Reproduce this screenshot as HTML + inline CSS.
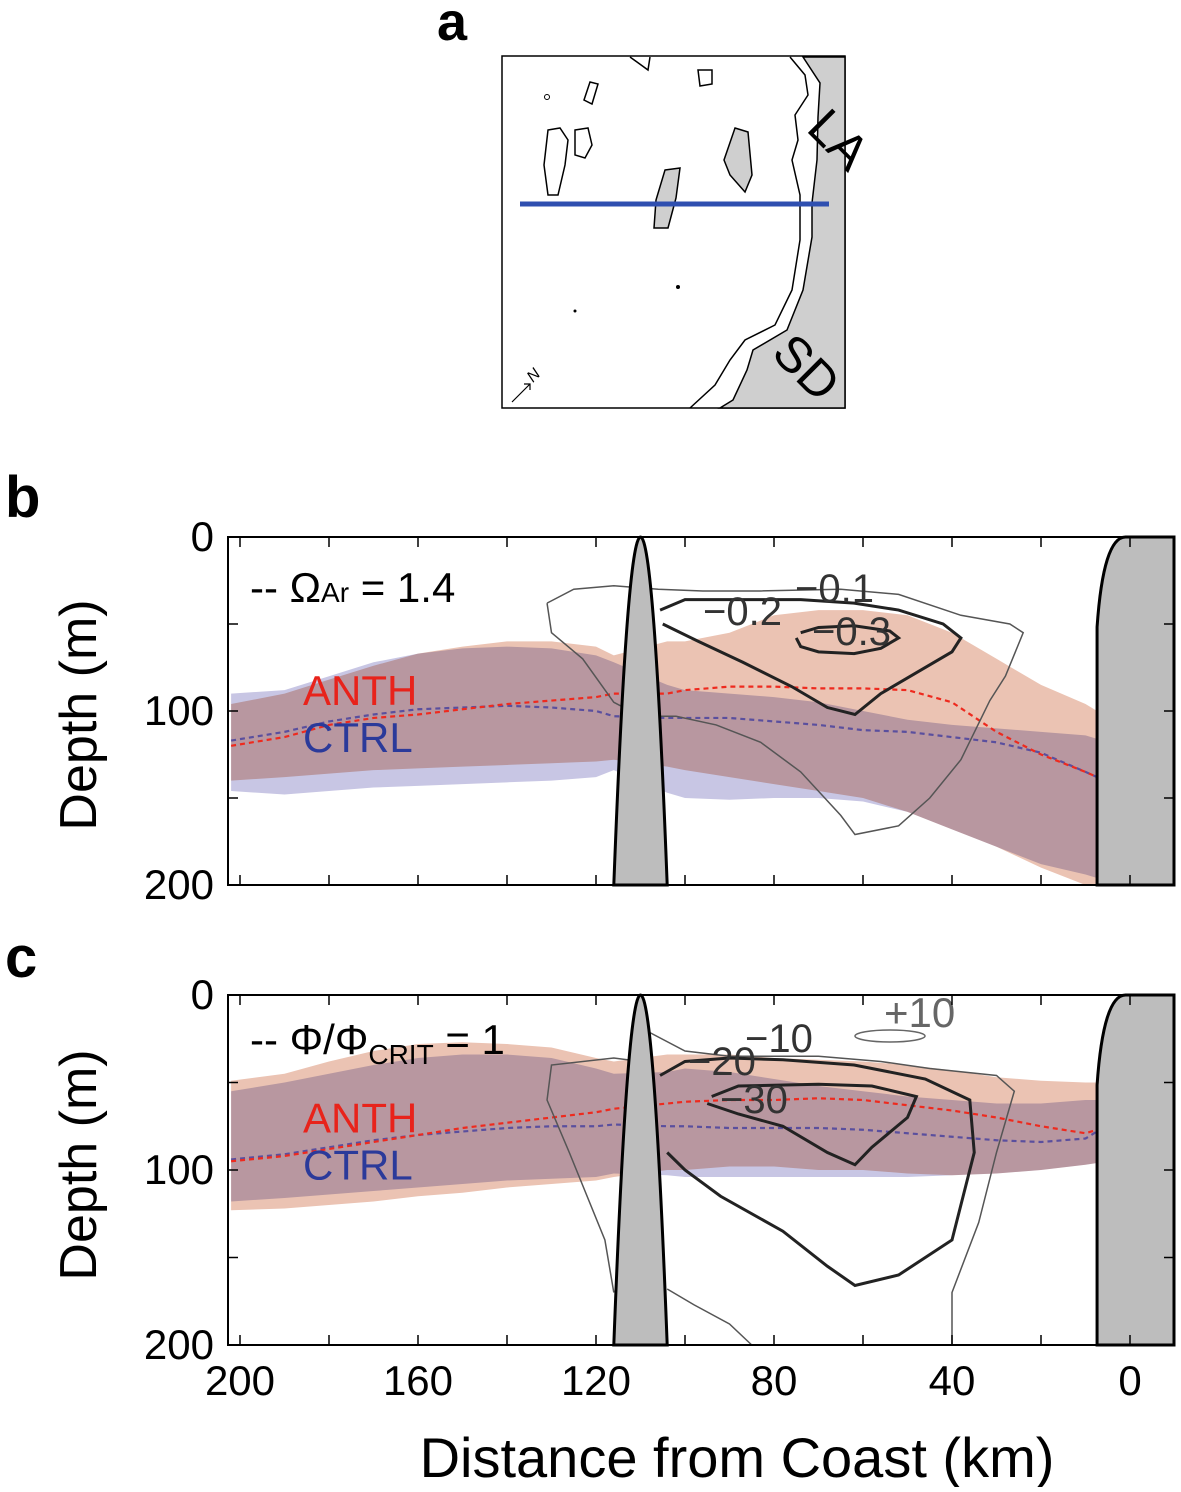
<!DOCTYPE html>
<html><head><meta charset="utf-8"><style>
body{margin:0;background:#fff;}
svg text{font-family:"Liberation Sans",sans-serif;}
</style></head><body>
<svg width="1181" height="1487" viewBox="0 0 1181 1487" xmlns="http://www.w3.org/2000/svg">
<g id="map">
<text x="452" y="40" font-size="54" font-weight="bold" text-anchor="middle">a</text>
<rect x="502" y="56" width="343" height="352" fill="#fff" stroke="#000" stroke-width="1.5"/>
<path d="M803,57 L820,83 L818,117 L817,160 L812,203 L812,237 L803,290 L787,330 L753,350 L747,370 L733,400 L720,408 L845,408 L845,57 Z" fill="#cfcfcf" stroke="#000" stroke-width="1.5"/>
<path d="M790,57 L805,75 L808,95 L795,115 L798,140 L792,160 L800,195 L800,240 L792,290 L775,325 L745,340 L730,360 L715,385 L690,408" fill="none" stroke="#000" stroke-width="1.5"/>
<path d="M548,130 L560,128 L568,140 L565,165 L558,195 L548,195 L544,165 Z M575,130 L588,128 L592,145 L585,158 L575,155 Z" fill="none" stroke="#000" stroke-width="1.5"/>
<path d="M665,170 L680,168 L676,198 L668,228 L654,228 L656,200 Z" fill="#cfcfcf" stroke="#000" stroke-width="1.5"/>
<path d="M735,128 L748,132 L752,175 L745,192 L730,175 L724,160 Z" fill="#cfcfcf" stroke="#000" stroke-width="1.5"/>
<path d="M590,82 L598,84 L592,104 L584,100 Z M698,70 L712,70 L712,84 L700,86 Z M630,57 L648,70 L650,57" fill="none" stroke="#000" stroke-width="1.5"/>
<circle cx="547" cy="97" r="2.5" fill="none" stroke="#000"/>
<circle cx="678" cy="287" r="2" fill="#000"/>
<circle cx="575" cy="311" r="1.5" fill="#000"/>
<line x1="520" y1="204" x2="829" y2="204" stroke="#2f4fb0" stroke-width="5"/>
<text x="0" y="0" font-size="50" transform="translate(805,130) rotate(45)">LA</text>
<text x="0" y="0" font-size="50" transform="translate(770,355) rotate(45)">SD</text>
<path d="M512,402 L530,384 M524,384 L530,384 L530,390" fill="none" stroke="#000" stroke-width="1.2"/>
<text x="533" y="383" font-size="16" font-style="italic" transform="rotate(-45,533,383)">N</text>
</g>
<g id="pb"></g>
<g id="pc"></g>
<text x="0" y="0" font-size="52" transform="translate(96,715) rotate(-90)" text-anchor="middle">Depth (m)</text>
<text x="0" y="0" font-size="52" transform="translate(96,1165) rotate(-90)" text-anchor="middle">Depth (m)</text>
<text x="5" y="517" font-size="58" font-weight="bold">b</text>
<text x="5" y="977" font-size="58" font-weight="bold">c</text>
<text x="737" y="1477" font-size="56" text-anchor="middle">Distance from Coast (km)</text>
</svg>
<script>
// shared km grid for bands
const kmGrid = [202,190,180,170,160,150,140,130,120,116, 104,100,90,80,70,60,50,40,30,20,10,7.4];
// panel b values (depth m)
const bAnthTop = [96,90,82,74,67,63,60,60,63,68, 60,60,55,45,42,42,45,55,70,85,96,100];
const bAnthBot = [140,138,136,134,133,132,131,130,129,128, 132,134,138,142,146,150,158,168,178,190,200,200];
const bCtrlTop = [90,88,80,72,67,64,63,64,68,72, 85,88,90,92,95,100,105,108,110,112,114,116];
const bCtrlBot = [146,148,146,144,143,142,141,140,138,134, 147,150,151,150,150,152,158,168,178,188,194,196];
const bAnthMean = [120,115,108,104,102,99,96,94,92,90, 90,88,86,86,87,87,88,95,112,125,135,138];
const bCtrlMean = [117,112,106,102,99,98,97,98,100,103, 104,104,104,106,108,111,112,115,118,124,135,138];
// panel c values
const cAnthTop = [49,45,38,32,28,27,28,30,36,38, 34,34,34,36,37,38,40,43,47,49,50,50];
const cAnthBot = [123,122,120,118,115,113,110,108,106,104, 100,100,98,98,100,100,102,103,102,100,97,96];
const cCtrlTop = [55,50,45,40,36,34,34,36,42,45, 44,42,44,48,52,55,58,60,62,62,60,60];
const cCtrlBot = [118,116,114,112,110,108,106,105,104,102, 103,104,104,104,104,104,104,103,102,100,97,96];
const cAnthMean = [95,92,88,84,80,76,73,70,67,65, 62,61,60,60,59,60,63,66,70,75,79,77];
const cCtrlMean = [94,91,87,83,80,78,76,75,75,74, 75,75,76,76,76,77,79,81,83,84,82,78];
// contours (km, depth)
const bC1 = [[131,38],[125,30],[116,28],[106,30],[96,31],[83,31],[65,30],[52,33],[38,45],[27,50],[24,55],[28,80],[31.5,94],[38,128],[45,150],[52,166],[61.8,171],[65,160],[74,135],[83,118],[93,108],[102,103],[105.6,103],[110,103],[116,95],[123,70],[130,55],[131,38]];
const bC2 = [[105.6,42],[100,36],[90,36],[74,36],[62,38],[52,42],[42,50],[38,58],[40,66],[48,78],[56,90],[61.8,102],[68,98],[76,86],[87,72],[97,60],[105,50]];
const bC3 = [[74,55],[70,52],[62,51],[54,54],[52,58],[56,64],[62,67],[70,66],[74,63],[75,58]];
const cC1 = [[109,20],[100,32],[90,35],[70,35],[56,38],[45,42],[30,46],[26,55],[30,90],[34,130],[40,170],[40,200]];
const cC1b = [[116,170],[118,140],[126,90],[131,60],[130,40],[116,36],[110,38]];
const cC1c = [[104,168],[98,177],[90,188],[85,200]];
const cC2 = [[105.6,46],[100,38],[90,36],[78,37],[62,40],[46,48],[36,60],[35,90],[40,140],[52,160],[61.8,166],[68,155],[78,135],[92,115],[100,100],[104,90]];
const cC3 = [[94,58],[88,52],[70,51],[58,52],[48,58],[50,70],[58,87],[61.8,97],[68,90],[78,75],[88,68],[95,62]];
const xTicks = [200,160,120,80,40,0];
const yTicks = [0,100,200];

const NS='http://www.w3.org/2000/svg';
function mk(tag,attrs,parent){const e=document.createElementNS(NS,tag);for(const k in attrs)e.setAttribute(k,attrs[k]);parent.appendChild(e);return e;}
const X0=228,X1=1174;
function xs(km){return 1130-km*4.45;}
function draw(g,top,bot,P){
  const ys=d=>top+d*(bot-top)/200;
  mk('rect',{x:X0,y:top,width:X1-X0,height:bot-top,fill:'#fff'},g);
  function band(t,b,fill,name){
    let pts=[];
    kmGrid.forEach((k,i)=>pts.push(xs(k)+','+ys(t[i])));
    for(let i=kmGrid.length-1;i>=0;i--)pts.push(xs(kmGrid[i])+','+ys(b[i]));
    const p=mk('polygon',{points:pts.join(' '),fill:fill,style:'mix-blend-mode:multiply'},g);
    
    
  }
  band(P.ct,P.cb,'#c8c6e4','ctrl-band');
  band(P.at,P.ab,'#ebc3b3','anth-band');
  function line(arr,color,name){
    const d=kmGrid.map((k,i)=>(i?'L':'M')+xs(k)+','+ys(arr[i])).join(' ');
    const p=mk('path',{d:d,fill:'none',stroke:color,'stroke-width':2.2,'stroke-dasharray':'5,4'},g);
    
    
  }
  line(P.cm,'#5a4f9e','ctrl-mean-line');line(P.am,'#ee2a1e','anth-mean-line');
  for(const c of P.contours){
    const d=c.pts.map((p,i)=>(i?'L':'M')+xs(p[0])+','+ys(p[1])).join(' ');
    const p=mk('path',{d:d,fill:'none',stroke:c.color,'stroke-width':c.w},g);
    
    
  }
  const isl=mk('path',{d:`M${xs(116)},${bot} Q${xs(110)},${2*top-bot} ${xs(104)},${bot} Z`,fill:'#bdbdbd',stroke:'#000','stroke-width':3},g);
  
  
  const cst=mk('path',{d:`M${xs(7.4)},${bot} L${xs(7.4)},${top+90} Q${xs(6)},${top} ${xs(1)},${top} L${X1},${top} L${X1},${bot} Z`,fill:'#bdbdbd',stroke:'#000','stroke-width':3},g);
  
  
  for(const t of P.labels){
    const e=mk('text',{x:t[0],y:t[1],'font-size':t[3]||40,fill:t[4]||'#333'},g);e.textContent=t[2];
    
    
  }
  mk('rect',{x:X0,y:top,width:X1-X0,height:bot-top,fill:'none',stroke:'#000','stroke-width':2},g);
  for(let k=200;k>=0;k-=20){const x=xs(k);mk('line',{x1:x,x2:x,y1:top,y2:top+10,stroke:'#000','stroke-width':1.5},g);mk('line',{x1:x,x2:x,y1:bot,y2:bot-10,stroke:'#000','stroke-width':1.5},g);}
  for(let d=0;d<=200;d+=50){const y=ys(d);mk('line',{x1:X0,x2:X0+10,y1:y,y2:y,stroke:'#000','stroke-width':1.5},g);mk('line',{x1:X1,x2:X1-10,y1:y,y2:y,stroke:'#000','stroke-width':1.5},g);}
  for(const d of yTicks){const e=mk('text',{x:214,y:ys(d)+14,'font-size':42,'text-anchor':'end'},g);e.textContent=d;
    
    }
  const a=mk('text',{x:303,y:ys(P.lab)+15,'font-size':42,fill:'#e8231b'},g);a.textContent='ANTH';
  
  
  const c=mk('text',{x:303,y:ys(P.lab)+62,'font-size':42,fill:'#2b3a9a'},g);c.textContent='CTRL';
  
  
}
const gb=document.getElementById('pb'), gc=document.getElementById('pc');
draw(gb,537,885,{at:bAnthTop,ab:bAnthBot,ct:bCtrlTop,cb:bCtrlBot,am:bAnthMean,cm:bCtrlMean,lab:88,
  contours:[{pts:bC1,color:'#555',w:1.5},{pts:bC2,color:'#222',w:3},{pts:bC3,color:'#222',w:3}],
  labels:[[795,602,'−0.1'],[703,625,'−0.2'],[812,645,'−0.3']]});
draw(gc,995,1345,{at:cAnthTop,ab:cAnthBot,ct:cCtrlTop,cb:cCtrlBot,am:cAnthMean,cm:cCtrlMean,lab:70,
  contours:[{pts:cC1,color:'#555',w:1.5},{pts:cC1b,color:'#555',w:1.5},{pts:cC1c,color:'#555',w:1.5},{pts:cC2,color:'#222',w:3},{pts:cC3,color:'#222',w:3}],
  labels:[[745,1052,'−10'],[688,1075,'−20'],[720,1113,'−30'],[884,1027,'+10',42,'#666']]});
const el=mk('ellipse',{cx:890,cy:1036,rx:35,ry:6,fill:'none',stroke:'#666','stroke-width':1.5},gc);


const l1=mk('text',{x:250,y:602,'font-size':42},gb);
l1.innerHTML='-- Ω<tspan font-size="28">Ar</tspan> = 1.4';


const l2=mk('text',{x:250,y:1054,'font-size':42},gc);
l2.innerHTML='-- Φ/Φ<tspan font-size="28" dy="10">CRIT</tspan><tspan dy="-10"> = 1</tspan>';


for(const k of xTicks){const e=mk('text',{x:xs(k),y:1395,'font-size':42,'text-anchor':'middle'},gc);e.textContent=k;
  
  }
</script>
</body></html>
